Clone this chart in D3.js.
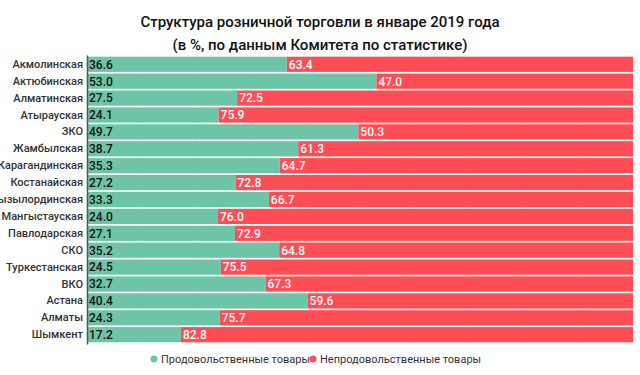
<!DOCTYPE html>
<html>
<head>
<meta charset="utf-8">
<script src="https://cdn.jsdelivr.net/npm/d3@7"></script>
<style>
  body { margin: 0; background: #fff; }
  text { font-family: Roboto, "Noto Sans", sans-serif; }
</style>
</head>
<body>
<svg id="chart" width="640" height="375"></svg>
<script>
let regions = ['Акмолинская', 'Актюбинская', 'Алматинская', 'Атырауская', 'ЗКО', 'Жамбылская',
    'Карагандинская', 'Костанайская', 'Кызылординская', 'Мангыстауская', 'Павлодарская', 'СКО',
    'Туркестанская', 'ВКО', 'Астана', 'Алматы', 'Шымкент'];
// the picture shows 17 rows
let food = [36.6, 53.0, 27.5, 24.1, 49.7, 38.7, 35.3, 27.2, 33.3, 24.0, 27.1, 35.2, 24.5, 32.7, 40.4, 24.3, 17.2];
let nonFood = [63.4, 47.0, 72.5, 75.9, 50.3, 61.3, 64.7, 72.8, 66.7, 76.0, 72.9, 64.8, 75.5, 67.3, 59.6, 75.7, 82.8];
let seriesNames = ['Продовольственные товары', 'Непродовольственные товары'];
let colors = ['#6dc4a6', '#ff4d55'];

let margin = {top: 55, right: 7, bottom: 31, left: 87};
let width = 640 - margin.left - margin.right;
let height = 375 - margin.top - margin.bottom;

let svg = d3.select('#chart');

svg.append('text')
    .attr('x', 320).attr('y', 27)
    .attr('text-anchor', 'middle')
    .style('font-size', '15px').style('font-weight', 500).attr('fill', '#111')
    .text('Структура розничной торговли в январе 2019 года');
svg.append('text')
    .attr('x', 320).attr('y', 50)
    .attr('text-anchor', 'middle')
    .style('font-size', '15px').style('font-weight', 500).attr('fill', '#111')
    .text('(в %, по данным Комитета по статистике)');

let g = svg.append('g')
    .attr('transform', 'translate(' + margin.left + ',' + margin.top + ')');

let data = regions.map((r, i) => ({region: r, food: food[i], nonFood: nonFood[i]}));

let xScale = d3.scaleLinear().domain([0, 100]).range([0, width]);
let yScale = d3.scaleBand().domain(regions).range([0, height]).padding(0.1);

// faint grid
g.append('g')
    .selectAll('line')
    .data(xScale.ticks(10))
    .enter().append('line')
    .attr('x1', d => xScale(d)).attr('x2', d => xScale(d))
    .attr('y1', 0).attr('y2', height)
    .attr('stroke', '#eee');

let stack = d3.stack().keys(['food', 'nonFood'])(data);

let layer = g.selectAll('.layer')
    .data(stack)
    .enter().append('g')
    .attr('class', 'layer')
    .attr('fill', (d, i) => colors[i]);

layer.selectAll('rect')
    .data(d => d)
    .enter().append('rect')
    .attr('x', d => xScale(d[0]))
    .attr('y', d => yScale(d.data.region))
    .attr('width', d => xScale(d[1]) - xScale(d[0]))
    .attr('height', yScale.bandwidth());

layer.selectAll('text')
    .data((d, i) => d.map(v => ({v: v, i: i})))
    .enter().append('text')
    .attr('x', d => xScale(d.v[0]) + 2)
    .attr('y', d => yScale(d.v.data.region) + yScale.bandwidth() / 2)
    .attr('dy', '0.36em')
    .style('font-size', '12px').style('font-weight', 500)
    .attr('fill', d => d.i === 0 ? '#111' : '#fff')
    .text(d => (d.v[1] - d.v[0]).toFixed(1));

let yAxis = d3.axisLeft(yScale).tickSize(0).tickPadding(4);
let ax = g.append('g').call(yAxis);
ax.select('.domain').attr('stroke', '#555').attr('stroke-width', 1.5);
ax.selectAll('text')
    .style('font-size', '11px').style('font-weight', 500)
    .style('font-family', 'Roboto, sans-serif')
    .attr('fill', '#333');

// legend
let legend = svg.append('g').attr('transform', 'translate(0,359)');
let lx = [154, 313];
seriesNames.forEach(function (name, i) {
    legend.append('circle')
        .attr('cx', lx[i]).attr('cy', 0).attr('r', 3.5)
        .attr('fill', colors[i]);
    legend.append('text')
        .attr('x', lx[i] + 7).attr('y', 0).attr('dy', '0.35em')
        .style('font-size', '11px').attr('fill', '#333')
        .text(name);
});
</script>
</body>
</html>
